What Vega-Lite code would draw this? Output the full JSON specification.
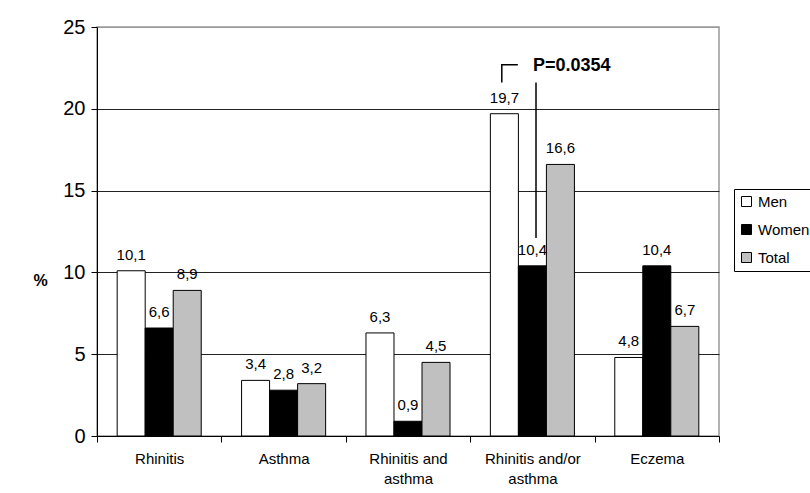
{
  "$schema": "https://vega.github.io/schema/vega-lite/v6.json",
  "width": 622,
  "height": 409,
  "autosize": "none",
  "padding": {"left": 97, "top": 27, "right": 91, "bottom": 57},
  "background": "white",
  "datasets": {
    "bars": [
      {"cat": "Rhinitis", "group": "Men", "value": 10.1},
      {"cat": "Rhinitis", "group": "Women", "value": 6.6},
      {"cat": "Rhinitis", "group": "Total", "value": 8.9},
      {"cat": "Asthma", "group": "Men", "value": 3.4},
      {"cat": "Asthma", "group": "Women", "value": 2.8},
      {"cat": "Asthma", "group": "Total", "value": 3.2},
      {"cat": "Rhinitis and asthma", "group": "Men", "value": 6.3},
      {"cat": "Rhinitis and asthma", "group": "Women", "value": 0.9},
      {"cat": "Rhinitis and asthma", "group": "Total", "value": 4.5},
      {"cat": "Rhinitis and/or asthma", "group": "Men", "value": 19.7},
      {"cat": "Rhinitis and/or asthma", "group": "Women", "value": 10.4},
      {"cat": "Rhinitis and/or asthma", "group": "Total", "value": 16.6},
      {"cat": "Eczema", "group": "Men", "value": 4.8},
      {"cat": "Eczema", "group": "Women", "value": 10.4},
      {"cat": "Eczema", "group": "Total", "value": 6.7}
    ],
    "bracket": [
      {"ax": 3.254, "value": 21.6, "o": 1},
      {"ax": 3.254, "value": 22.7, "o": 2},
      {"ax": 3.383, "value": 22.7, "o": 3}
    ],
    "vline": [
      {"ax": 3.529, "value": 12.1, "value2": 21.6}
    ],
    "ptext": [
      {"ax": 3.505, "value": 22.6, "t": "P=0.0354"}
    ]
  },
  "layer": [
    {
      "data": {"name": "bars"},
      "layer": [
        {
          "mark": {"type": "bar", "stroke": "black", "strokeWidth": 1},
          "encoding": {
            "x": {
              "field": "cat", "type": "nominal", "sort": null,
              "scale": {"paddingInner": 0, "paddingOuter": 0},
              "axis": {
                "title": null, "labelAngle": 0, "labelFontSize": 15, "labelPadding": 9,
                "tickSize": 6, "tickBand": "extent", "domainColor": "black", "tickColor": "black",
                "labelColor": "black", "labelLineHeight": 20, "labelBaseline": "top",
                "labelExpr": "datum.value == 'Rhinitis and asthma' ? ['Rhinitis and', 'asthma'] : datum.value == 'Rhinitis and/or asthma' ? ['Rhinitis and/or', 'asthma'] : datum.value"
              }
            },
            "xOffset": {
              "field": "group", "type": "nominal",
              "sort": ["Men", "Women", "Total"],
              "scale": {"paddingInner": 0, "paddingOuter": 0.72}
            },
            "y": {
              "field": "value", "type": "quantitative",
              "scale": {"domain": [0, 25], "nice": false},
              "axis": {
                "title": "%", "titleAngle": 0, "titleFontSize": 16, "titleFontWeight": "bold",
                "titleX": -57, "titleY": 253, "titleAlign": "center", "titleBaseline": "middle",
                "values": [0, 5, 10, 15, 20, 25], "labelFontSize": 20, "labelPadding": 6,
                "tickSize": 6, "domainColor": "black", "tickColor": "black", "labelColor": "black",
                "titleColor": "black",
                "grid": true,
                "gridColor": {"condition": {"test": "datum.value == 25", "value": "#999999"}, "value": "#222222"}
              }
            },
            "color": {
              "field": "group", "type": "nominal",
              "sort": ["Men", "Women", "Total"],
              "scale": {"domain": ["Men", "Women", "Total"], "range": ["white", "black", "#c0c0c0"]},
              "legend": {"title": null}
            }
          }
        },
        {
          "mark": {"type": "text", "baseline": "alphabetic", "dy": -11, "fontSize": 15, "color": "black"},
          "encoding": {
            "x": {"field": "cat", "type": "nominal", "sort": null},
            "xOffset": {"field": "group", "type": "nominal", "sort": ["Men", "Women", "Total"]},
            "y": {"field": "value", "type": "quantitative", "title": "%"},
            "text": {"field": "value", "type": "quantitative", "format": ".1f"}
          }
        }
      ]
    },
    {
      "layer": [
        {
          "data": {"name": "bracket"},
          "mark": {"type": "line", "color": "black", "strokeWidth": 1.5},
          "encoding": {
            "x": {"field": "ax", "type": "quantitative", "scale": {"domain": [0, 5], "nice": false, "zero": false}, "axis": null},
            "y": {"field": "value", "type": "quantitative", "title": "%"},
            "order": {"field": "o"}
          }
        },
        {
          "data": {"name": "vline"},
          "mark": {"type": "rule", "color": "black", "strokeWidth": 1.5},
          "encoding": {
            "x": {"field": "ax", "type": "quantitative", "axis": null},
            "y": {"field": "value", "type": "quantitative", "title": "%"},
            "y2": {"field": "value2"}
          }
        },
        {
          "data": {"name": "ptext"},
          "mark": {"type": "text", "align": "left", "baseline": "middle", "fontSize": 18, "fontWeight": "bold", "font": "Liberation Sans Narrow, Arial Narrow, Liberation Sans, Arial", "color": "black"},
          "encoding": {
            "x": {"field": "ax", "type": "quantitative", "axis": null},
            "y": {"field": "value", "type": "quantitative", "title": "%"},
            "text": {"field": "t"}
          }
        }
      ]
    }
  ],
  "resolve": {"scale": {"x": "independent"}},
  "config": {
    "font": "Liberation Sans, Arial, sans-serif",
    "locale": {"number": {"decimal": ",", "thousands": ".", "grouping": [3], "currency": ["", ""]}},
    "view": {"stroke": "#999999", "strokeWidth": 1.5},
    "axis": {"labelFont": "Liberation Sans, Arial", "titleFont": "Liberation Sans, Arial"},
    "legend": {
      "orient": "none", "legendX": 637, "legendY": 162,
      "strokeColor": "black", "padding": 5, "symbolType": "square", "symbolSize": 100,
      "symbolStrokeColor": "black", "symbolStrokeWidth": 1, "labelFontSize": 15,
      "labelColor": "black", "rowPadding": 12, "labelOffset": 4, "fillColor": "white",
      "labelFont": "Liberation Sans, Arial"
    }
  }
}
